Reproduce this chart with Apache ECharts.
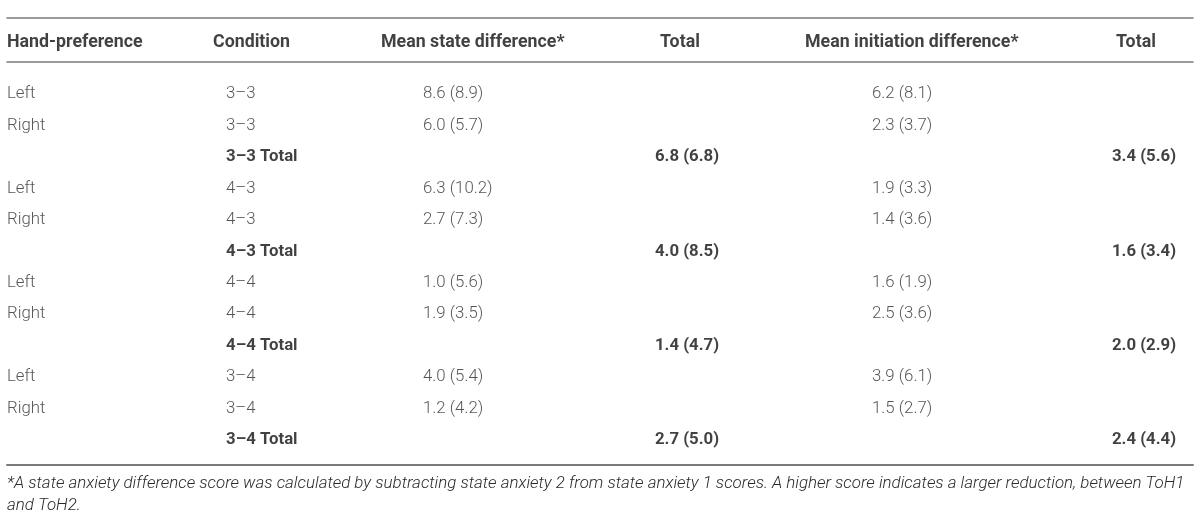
<!DOCTYPE html>
<html>
<head>
<meta charset="utf-8">
<title>Hand-preference table</title>
<script src="https://cdn.jsdelivr.net/npm/echarts@6/dist/echarts.min.js"></script>
<style>
  html, body { margin: 0; padding: 0; background: #fff; }
  #chart { width: 1200px; height: 520px; }
</style>
</head>
<body>
<div id="chart"></div>
<script>
"use strict";

// table content
var headers    = ['Hand-preference', 'Condition', 'Mean state difference*', 'Total', 'Mean initiation difference*', 'Total'];
var handPref   = ['Left', 'Right', '', 'Left', 'Right', '', 'Left', 'Right', '', 'Left', 'Right', ''];
var condition  = ['3–3', '3–3', '3–3 Total', '4–3', '4–3', '4–3 Total', '4–4', '4–4', '4–4 Total', '3–4', '3–4', '3–4 Total'];
var meanState  = ['8.6 (8.9)', '6.0 (5.7)', '', '6.3 (10.2)', '2.7 (7.3)', '', '1.0 (5.6)', '1.9 (3.5)', '', '4.0 (5.4)', '1.2 (4.2)', ''];
var stateTotal = ['', '', '6.8 (6.8)', '', '', '4.0 (8.5)', '', '', '1.4 (4.7)', '', '', '2.7 (5.0)'];
var meanInit   = ['6.2 (8.1)', '2.3 (3.7)', '', '1.9 (3.3)', '1.4 (3.6)', '', '1.6 (1.9)', '2.5 (3.6)', '', '3.9 (6.1)', '1.5 (2.7)', ''];
var initTotal  = ['', '', '3.4 (5.6)', '', '', '1.6 (3.4)', '', '', '2.0 (2.9)', '', '', '2.4 (4.4)'];
var footnote   = ['*A state anxiety difference score was calculated by subtracting state anxiety 2 from state anxiety 1 scores. A higher score indicates a larger reduction, between ToH1',
                  'and ToH2.'];

// layout: x anchors (px on the value axis) and alignment for each column
var headX     = [7, 213, 381, 680, 805, 1136];
var headAlign = ['left', 'left', 'left', 'center', 'left', 'center'];
var cellX     = [7, 226, 423, 687, 872, 1144];
var cellAlign = ['left', 'left', 'left', 'center', 'left', 'center'];

var FONT = 'Roboto, "Liberation Sans", Arial, sans-serif';
var RULE = '#7a7a7a';
var columns = [handPref, condition, meanState, stateTotal, meanInit, initTotal];

var series = [];

// header row
series.push({
    type: 'scatter',
    xAxisIndex: 0,
    yAxisIndex: 0,
    symbolSize: 0,
    silent: true,
    data: headers.map(function (h, j) {
        return {
            value: [headX[j], 'h', h],
            label: { align: headAlign[j] }
        };
    }),
    label: {
        show: true,
        position: 'inside',
        verticalAlign: 'middle',
        offset: [0, 3],
        formatter: function (p) { return p.value[2]; },
        fontFamily: FONT,
        fontSize: 17.8,
        fontWeight: 'bold',
        color: '#111'
    }
});

// body cells, one series per column, row index on the y value axis
for (var j = 0; j < columns.length; j++) {
    var items = [];
    for (var i = 0; i < columns[j].length; i++) {
        if (columns[j][i] === '') continue;
        var isTotal = condition[i].indexOf('Total') >= 0;
        items.push({
            value: [cellX[j], i, columns[j][i]],
            label: isTotal ? { fontWeight: 'bold', color: '#111' } : {}
        });
    }
    series.push({
        type: 'scatter',
        xAxisIndex: 1,
        yAxisIndex: 1,
        symbolSize: 0,
        silent: true,
        data: items,
        label: {
            show: true,
            position: 'inside',
            align: cellAlign[j],
            verticalAlign: 'middle',
            offset: [0, 2],
            formatter: function (p) { return p.value[2]; },
            fontFamily: FONT,
            fontSize: 16.8,
            fontWeight: 300,
            color: '#2a2a2a'
        }
    });
}

var ruleStyle = { color: RULE, width: 1.5 };
var hidden = { show: false };

var option = {
    backgroundColor: '#fff',
    animation: false,
    title: {
        text: footnote.join('\n'),
        left: 7,
        top: 473,
        padding: 0,
        textStyle: {
            fontFamily: FONT,
            fontSize: 16.9,
            fontStyle: 'italic',
            fontWeight: 300,
            color: '#2a2a2a',
            lineHeight: 22
        }
    },
    grid: [
        { left: 7, right: 7, top: 18, height: 44 },
        { left: 7, right: 7, top: 62, height: 403 }
    ],
    xAxis: [
        // top rule
        { gridIndex: 0, type: 'value', position: 'top', min: 7, max: 1193,
          axisLine: { show: true, onZero: false, lineStyle: ruleStyle },
          axisTick: hidden, axisLabel: hidden, splitLine: hidden },
        // header underline
        { gridIndex: 1, type: 'value', position: 'top', min: 7, max: 1193,
          axisLine: { show: true, onZero: false, lineStyle: ruleStyle },
          axisTick: hidden, axisLabel: hidden, splitLine: hidden },
        // bottom rule
        { gridIndex: 1, type: 'value', position: 'bottom', min: 7, max: 1193,
          axisLine: { show: true, onZero: false, lineStyle: { color: RULE, width: 2 } },
          axisTick: hidden, axisLabel: hidden, splitLine: hidden }
    ],
    yAxis: [
        { gridIndex: 0, type: 'category', data: ['h'], show: false },
        { gridIndex: 1, type: 'value', inverse: true, min: -0.95, max: 11.85,
          axisLine: hidden, axisTick: hidden, axisLabel: hidden, splitLine: hidden }
    ],
    series: series
};

var myChart = echarts.init(document.getElementById('chart'));
myChart.setOption(option);
</script>
</body>
</html>
